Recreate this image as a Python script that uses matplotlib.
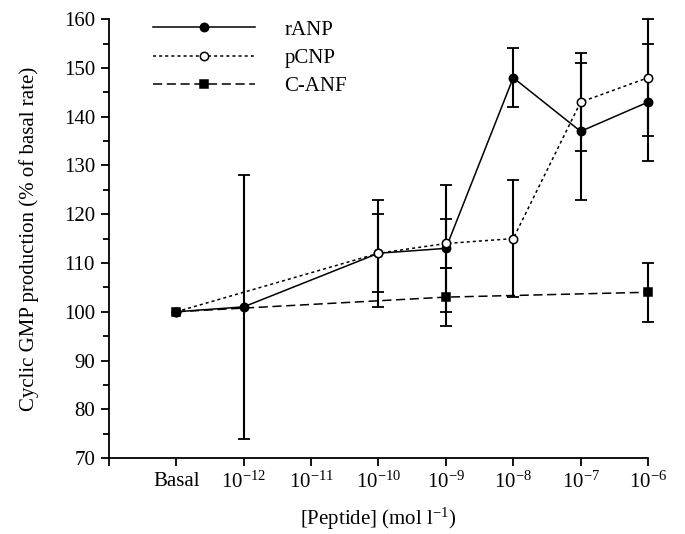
import numpy as np
import matplotlib.pyplot as plt

plt.rcParams['font.family'] = 'Liberation Serif'
plt.rcParams['mathtext.fontset'] = 'custom'
plt.rcParams['mathtext.rm'] = 'Liberation Serif'
plt.rcParams['mathtext.it'] = 'Liberation Serif:italic'

# categories on the x axis (evenly spaced)
conc_labels = ["Basal", r"$10^{-12}$", r"$10^{-11}$", r"$10^{-10}$",
               r"$10^{-9}$", r"$10^{-8}$", r"$10^{-7}$", r"$10^{-6}$"]

nan = np.nan
rANP_mean = [100, 101, nan, 112, 113, 148, 137, 143]
rANP_err = [nan, 27, nan, 11, 13, 6, 14, 12]
pCNP_mean = [100, nan, nan, 112, 114, 115, 143, 148]
pCNP_err = [nan, nan, nan, 8, 5, 12, 10, 12]
CANF_mean = [100, nan, nan, nan, 103, nan, nan, 104]
CANF_err = [nan, nan, nan, nan, 6, nan, nan, 6]

series = [
    ("rANP", rANP_mean, rANP_err, '-', 'o', 'black'),
    ("pCNP", pCNP_mean, pCNP_err, (0, (2, 2)), 'o', 'white'),
    ("C-ANF", CANF_mean, CANF_err, (0, (6, 3)), 's', 'black'),
]

fig = plt.figure(figsize=(6.85, 5.34), dpi=100)
ax = fig.add_axes([0.159, 0.1423, 0.787, 0.8217])

x = np.arange(len(conc_labels))
handles = []
for name, mean, err, ls, mk, face in series:
    mean = np.array(mean, dtype=float)
    err = np.array(err, dtype=float)
    ok = ~np.isnan(mean)
    line, = ax.plot(x[ok], mean[ok], linestyle=ls, color='black', lw=1.1,
                    marker=mk, markersize=6 if mk == 'o' else 5.5,
                    markerfacecolor=face, markeredgecolor='black',
                    markeredgewidth=1.1, zorder=3, clip_on=False, label=name)
    handles.append(line)
    e = ~np.isnan(err)
    ax.errorbar(x[e], mean[e], yerr=err[e], fmt='none', ecolor='black',
                elinewidth=1.5, capsize=4.5, capthick=1.3, zorder=2,
                clip_on=False)

ax.set_xlim(-1, 7)
ax.set_ylim(70, 160)
ax.set_xticks(np.arange(-1, 8))
ax.set_xticklabels([''] + conc_labels)
ax.set_yticks(np.arange(70, 161, 10))
ax.set_yticks(np.arange(75, 160, 10), minor=True)

for s in ['top', 'right']:
    ax.spines[s].set_visible(False)
for s in ['left', 'bottom']:
    ax.spines[s].set_linewidth(1.3)
ax.tick_params(axis='both', which='major', direction='out', length=6,
               width=1.3, labelsize=15, pad=4)
ax.tick_params(axis='y', which='minor', direction='out', length=4, width=1.3)

ax.set_ylabel("Cyclic GMP production (% of basal rate)", fontsize=15,
              labelpad=18)
ax.set_xlabel(r"[Peptide] (mol l$^{-1}$)", fontsize=15, labelpad=9)

ax.legend(handles=handles, loc='upper left', frameon=False, fontsize=15,
          bbox_to_anchor=(153 / 685, 1 - 20 / 534),
          bbox_transform=fig.transFigure, borderpad=0, borderaxespad=0,
          handlelength=4.9, handletextpad=1.4, labelspacing=0.42)

fig.savefig("out.png", dpi=100)
